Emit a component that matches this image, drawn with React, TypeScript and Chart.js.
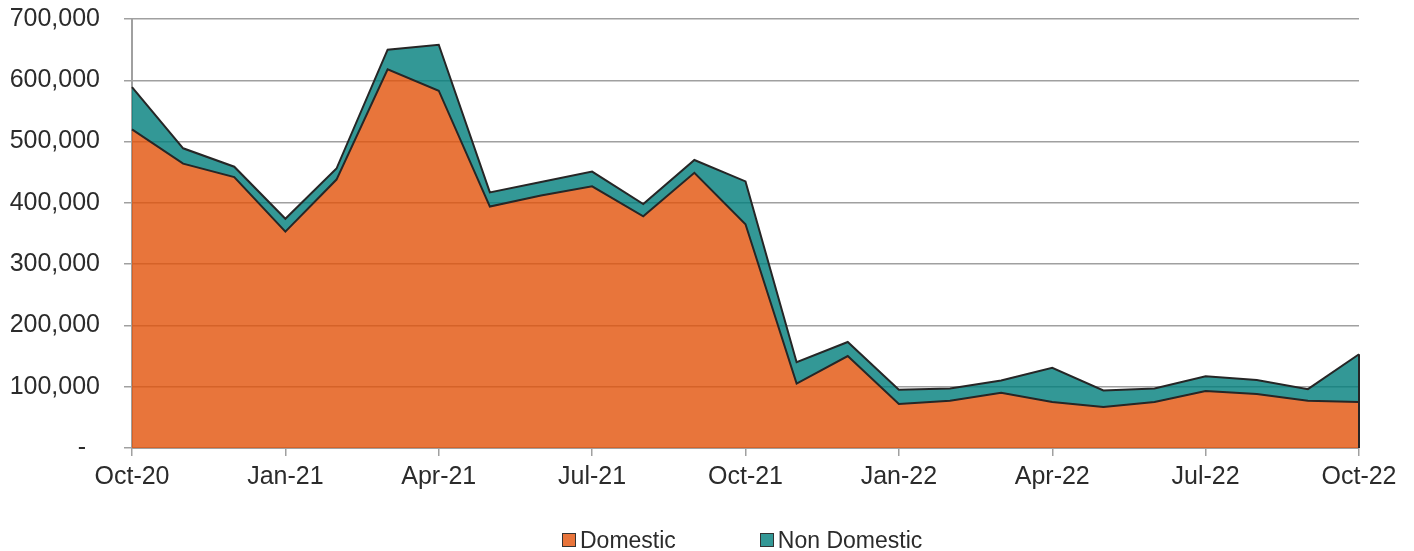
import React, { useEffect, useRef } from "react";
import { Chart, registerables } from "chart.js";

Chart.register(...registerables);

const months = [
  "Oct-20", "Nov-20", "Dec-20", "Jan-21", "Feb-21", "Mar-21", "Apr-21", "May-21", "Jun-21",
  "Jul-21", "Aug-21", "Sep-21", "Oct-21", "Nov-21", "Dec-21", "Jan-22", "Feb-22", "Mar-22",
  "Apr-22", "May-22", "Jun-22", "Jul-22", "Aug-22", "Sep-22", "Oct-22",
];

const domestic = [
  520000, 464000, 442000, 353000, 438000, 618000, 583000, 394000, 412000,
  427000, 378000, 449000, 365000, 105000, 150000, 72000, 77000, 90000,
  75000, 67000, 75000, 93000, 88000, 77000, 75000,
];

const nonDomestic = [
  69000, 25000, 17000, 21000, 18000, 32000, 75000, 23000, 22000,
  24000, 20000, 21000, 70000, 35000, 23000, 23000, 20000, 20000,
  56000, 27000, 22000, 24000, 23000, 19000, 78000,
];

const yTicks = [0, 100000, 200000, 300000, 400000, 500000, 600000, 700000];

const FONT = "'Liberation Sans', Arial, sans-serif";
const ORANGE = "rgba(226, 82, 10, 0.8)";
const TEAL = "rgba(0, 126, 124, 0.8)";
const ORANGE_SOLID = "#E8743B";
const TEAL_SOLID = "#339896";
const GRID = "#a0a0a0";
const TEXT = "#2b2b2b";
const LINE = "#262626";

const edgePlugin = {
  id: "rightEdge",
  afterDatasetsDraw(chart: any) {
    const x = chart.scales.x;
    const y = chart.scales.y;
    const last = months.length - 1;
    const px = x.getPixelForValue(last);
    const top = y.getPixelForValue(domestic[last] + nonDomestic[last]);
    const bottom = y.getPixelForValue(0);
    const ctx = chart.ctx;
    ctx.save();
    ctx.strokeStyle = LINE;
    ctx.lineWidth = 2;
    ctx.beginPath();
    ctx.moveTo(px, top);
    ctx.lineTo(px, bottom);
    ctx.stroke();
    ctx.restore();
  },
};

export default function App() {
  const ref = useRef<HTMLCanvasElement | null>(null);

  useEffect(() => {
    if (!ref.current) return;
    const chart = new Chart(ref.current, {
      type: "line",
      data: {
        labels: months,
        datasets: [
          {
            label: "Domestic",
            data: domestic,
            backgroundColor: ORANGE,
            borderColor: LINE,
            borderWidth: 2,
            fill: "origin",
            pointRadius: 0,
            tension: 0,
          },
          {
            label: "Non Domestic",
            data: nonDomestic,
            backgroundColor: TEAL,
            borderColor: LINE,
            borderWidth: 2,
            fill: "-1",
            pointRadius: 0,
            tension: 0,
          },
        ],
      },
      plugins: [edgePlugin],
      options: {
        animation: false,
        responsive: false,
        maintainAspectRatio: false,
        layout: { padding: { left: 10, right: 55, top: 19, bottom: 43 } },
        plugins: {
          legend: { display: false },
          tooltip: { enabled: false },
        },
        scales: {
          x: {
            offset: false,
            z: 1,
            afterFit: (axis: any) => {
              axis.height = 60;
              axis.paddingLeft = 0;
              axis.paddingRight = 0;
            },
            grid: {
              drawOnChartArea: false,
              drawTicks: true,
              tickLength: 8,
              tickColor: (ctx: any) => (ctx.index % 3 === 0 ? GRID : "rgba(0,0,0,0)"),
              lineWidth: 1.5,
            },
            border: { display: true, color: GRID, width: 2 },
            ticks: {
              autoSkip: false,
              maxRotation: 0,
              minRotation: 0,
              padding: 6,
              color: TEXT,
              font: { family: FONT, size: 25 },
              callback: (_v: any, i: number) => (i % 3 === 0 ? months[i] : ""),
            },
          },
          y: {
            stacked: true,
            min: yTicks[0],
            max: yTicks[yTicks.length - 1],
            afterBuildTicks: (axis: any) => {
              axis.ticks = yTicks.map((v) => ({ value: v }));
            },
            afterFit: (axis: any) => {
              axis.width = 122;
              axis.paddingTop = 0;
              axis.paddingBottom = 0;
            },
            grid: {
              color: GRID,
              lineWidth: 1.5,
              tickLength: 8,
              tickColor: GRID,
            },
            border: { display: true, color: GRID, width: 2 },
            ticks: {
              padding: 24,
              color: TEXT,
              font: { family: FONT, size: 25 },
              callback: (v: any) => (Number(v) === 0 ? "-  " : Number(v).toLocaleString("en-US")),
            },
          },
        },
      },
    });
    return () => chart.destroy();
  }, []);

  const box = (c: string): React.CSSProperties => ({
    display: "inline-block",
    width: 12,
    height: 12,
    background: c,
    border: "1px solid #333",
    marginRight: 4,
    verticalAlign: "middle",
    position: "relative",
    top: -2,
  });

  return (
    <div style={{ position: "absolute", left: 0, top: 0, width: 1414, height: 551, background: "#fff" }}>
      <canvas ref={ref} width={1414} height={551} style={{ display: "block" }} />
      <div
        style={{
          position: "absolute",
          left: 562,
          top: 526,
          fontFamily: FONT,
          fontSize: 23,
          color: TEXT,
          lineHeight: "28px",
          whiteSpace: "nowrap",
        }}
      >
        <span style={{ marginRight: 84 }}>
          <span style={box(ORANGE_SOLID)} />
          Domestic
        </span>
        <span>
          <span style={box(TEAL_SOLID)} />
          Non Domestic
        </span>
      </div>
    </div>
  );
}
